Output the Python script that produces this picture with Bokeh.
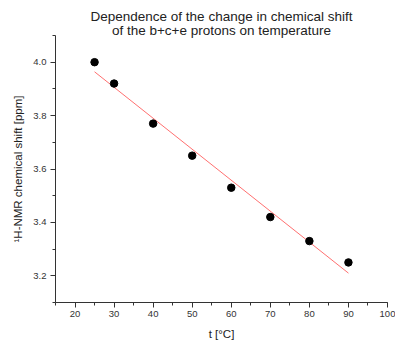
from bokeh.plotting import figure
from bokeh.models import Range1d, Title, SingleIntervalTicker, PrintfTickFormatter
from bokeh.embed import file_html
from bokeh.resources import INLINE

# data
temps = [25, 30, 40, 50, 60, 70, 80, 90]
shifts = [4.00, 3.92, 3.77, 3.65, 3.53, 3.42, 3.33, 3.25]
fit_x = [25, 90]
fit_y = [3.964, 3.210]

title_lines = ["Dependence of the change in chemical shift",
               "of the b+c+e protons on temperature"]
x_label = "t [°C]"
y_label = "¹H-NMR chemical shift [ppm]"

FONT = "Liberation Sans"
X0, X1, Y0, Y1 = 15, 100, 3.1, 4.1

p = figure(width=395, height=346, output_backend="svg", toolbar_location=None,
           x_range=Range1d(X0, X1), y_range=Range1d(Y0, Y1),
           min_border_left=55, min_border_right=8, min_border_top=35, min_border_bottom=44)
p.title = None
for t, so in zip(reversed(title_lines), (-5, 0)):
    p.add_layout(Title(text=t, align="center", text_font=FONT, text_font_size="13.5px",
                       text_font_style="normal", text_color="#222222",
                       standoff=so, offset=0, text_line_height=1.0), "above")

p.line(fit_x, fit_y, line_color="#ff7070", line_width=1)
p.scatter(temps, shifts, size=7.5, color="black")

p.grid.visible = False
p.outline_line_color = None
p.background_fill_color = "white"
p.border_fill_color = "white"

p.xaxis.ticker = SingleIntervalTicker(interval=10, num_minor_ticks=2)
p.yaxis.ticker = SingleIntervalTicker(interval=0.2, num_minor_ticks=2)
p.yaxis.formatter = PrintfTickFormatter(format="%.1f")
for ax in (p.xaxis[0], p.yaxis[0]):
    ax.axis_line_color = "#333333"
    ax.major_tick_line_color = "#333333"
    ax.minor_tick_line_color = "#333333"
    ax.major_tick_out = 5
    ax.major_tick_in = 0
    ax.minor_tick_out = 3
    ax.minor_tick_in = 0
    ax.major_label_text_font = FONT
    ax.major_label_text_font_size = "9.5px"
    ax.major_label_text_color = "#333333"
    ax.axis_label_text_font = FONT
    ax.axis_label_text_font_size = "11.5px"
    ax.axis_label_text_font_style = "normal"
    ax.axis_label_text_color = "#222222"
p.xaxis.axis_label = x_label
p.yaxis.axis_label = y_label
p.xaxis.major_label_standoff = 3
p.yaxis.major_label_standoff = 4
p.xaxis.axis_label_standoff = 8
p.yaxis.axis_label_standoff = 6

open("out.html", "w").write(file_html(p, INLINE))
